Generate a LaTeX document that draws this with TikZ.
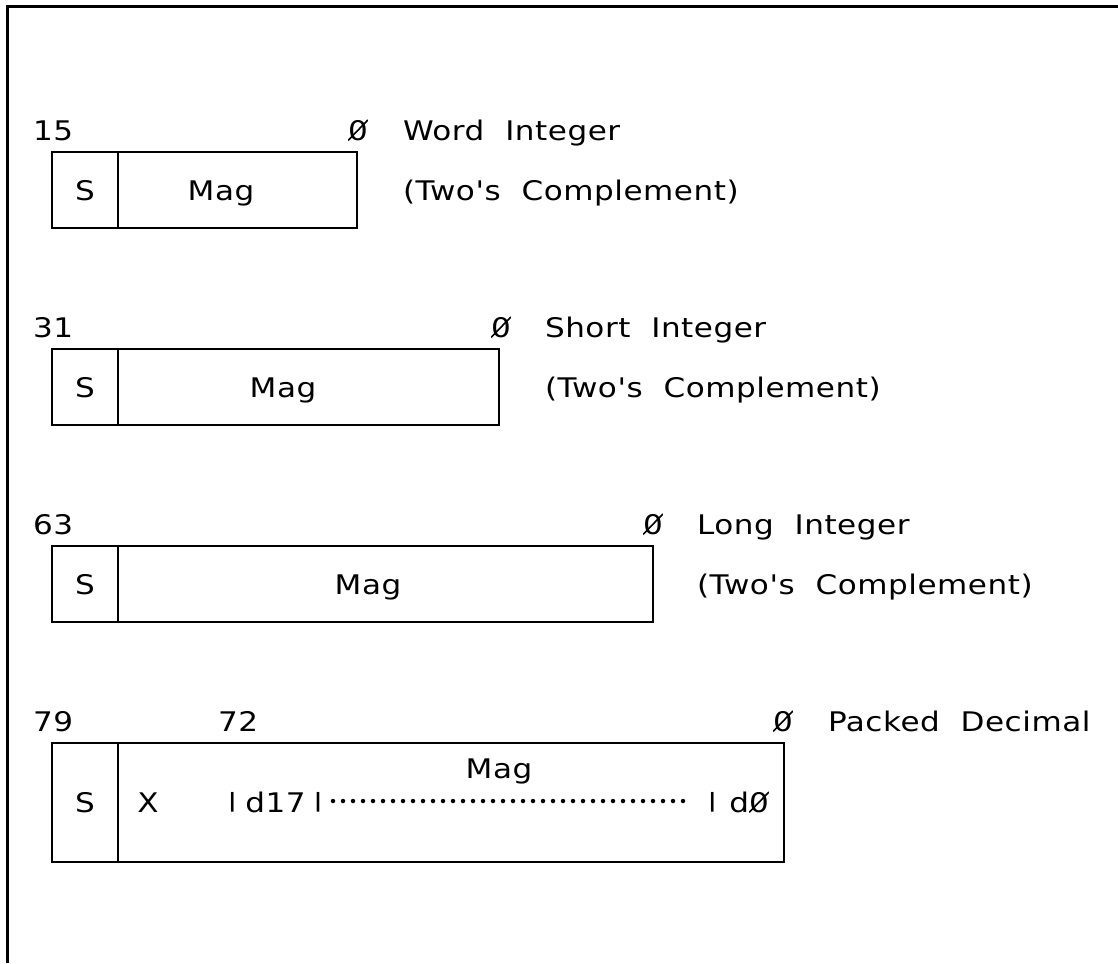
\documentclass[tikz,border=0pt]{standalone}
\usepackage{fontspec}
\setmainfont{DejaVu Sans}[FakeStretch=1.15,WordSpace=2,LetterSpace=2,Ligatures=TeXOff]
% short vertical bar, cap height
\newcommand\vbar{\raisebox{0.17em}{\scalebox{1}[0.73]{|}}}
\begin{document}
\begin{tikzpicture}[x=1pt,y=-1pt,
  txt/.style={font=\fontsize{27}{31}\selectfont, inner sep=0pt, outer sep=0pt},
  lbl/.style={txt, anchor=base west},
  ctr/.style={txt, anchor=base},
  zero/.style={ctr, path picture={\draw[line width=1.6pt]
      (path picture bounding box.south west) -- (path picture bounding box.north east);}},
  cell/.style={draw, line width=2.5pt, inner sep=0pt, outer sep=0pt, anchor=north west}]
\useasboundingbox (0,0) rectangle (1118,963);
% frame
\draw[line width=3pt] (7,963) -- (7,7) -- (1118,7);

% word integer
\node[lbl] (whi) at (33,140) {15};
\node[zero] (wlo) at (358,140) {0};
\node[lbl] (wname) at (403,140) {Word Integer};
\node[cell, minimum width=66, minimum height=76] (ws) at (52,152) {};
\node[cell, minimum width=239, minimum height=76] (wm) at (118,152) {};
\node[ctr] (wsl) at (85,200) {S};
\node[ctr] (wml) at (221,200) {Mag};
\node[lbl] (wnote) at (403,200) {(Two's Complement)};

% short integer
\node[lbl] (shi) at (33,337) {31};
\node[zero] (slo) at (501,337) {0};
\node[lbl] (sname) at (545,337) {Short Integer};
\node[cell, minimum width=66, minimum height=76] (ss) at (52,349) {};
\node[cell, minimum width=381, minimum height=76] (sm) at (118,349) {};
\node[ctr] (ssl) at (85,397) {S};
\node[ctr] (sml) at (283,397) {Mag};
\node[lbl] (snote) at (545,397) {(Two's Complement)};

% long integer
\node[lbl] (lhi) at (33,534) {63};
\node[zero] (llo) at (653,534) {0};
\node[lbl] (lname) at (697,534) {Long Integer};
\node[cell, minimum width=66, minimum height=76] (ls) at (52,546) {};
\node[cell, minimum width=535, minimum height=76] (lm) at (118,546) {};
\node[ctr] (lsl) at (85,594) {S};
\node[ctr] (lml) at (368,594) {Mag};
\node[lbl] (lnote) at (697,594) {(Two's Complement)};

% packed decimal
\node[lbl] (phi) at (33,731) {79};
\node[lbl] (pmid) at (218,731) {72};
\node[zero] (plo) at (783,731) {0};
\node[lbl] (pname) at (828,731) {Packed Decimal};
\node[cell, minimum width=66, minimum height=119] (ps) at (52,743) {};
\node[cell, minimum width=666, minimum height=119] (pm) at (118,743) {};
\node[ctr] (pml) at (499,778) {Mag};
\node[ctr] (psl) at (85,812) {S};
\node[ctr] (px) at (148,812) {X};
\node[lbl] (pd17) at (227,812) {\vbar\hspace{8pt}d17\hspace{7pt}\vbar};
\node[lbl] (pd) at (707,812) {\vbar\hspace{12pt}d};
\node[zero, anchor=base west] (pdz) at (pd.base east) {0};
\coordinate (dotsa) at (333,801);
\coordinate (dotsb) at (693,801);
\draw[line width=4.5pt, line cap=round, dash pattern=on 0pt off 10pt] (dotsa) -- (dotsb);
\end{tikzpicture}
\end{document}
